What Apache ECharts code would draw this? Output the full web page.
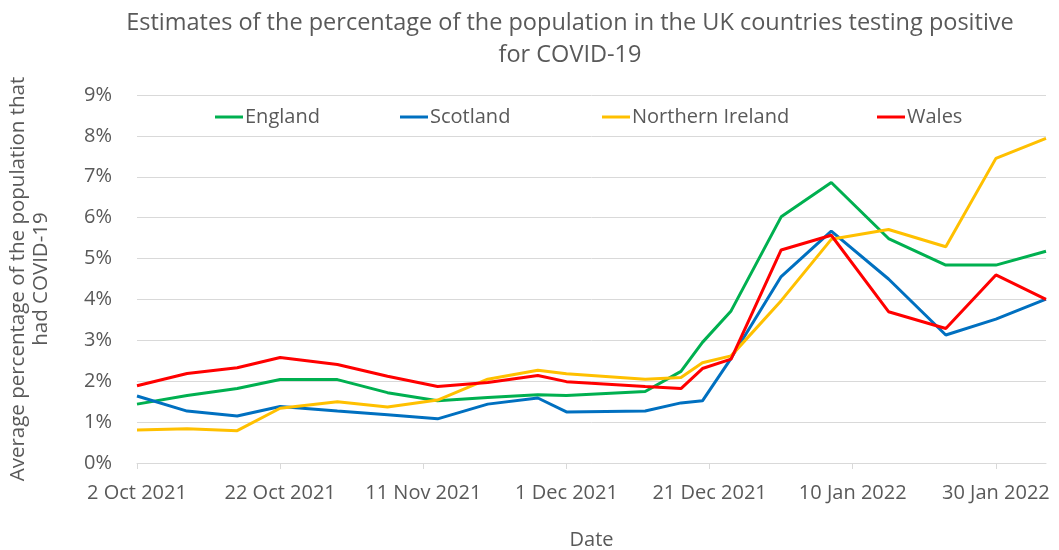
<!DOCTYPE html>
<html><head><meta charset="utf-8">
<script src="https://cdn.jsdelivr.net/npm/echarts@6/dist/echarts.min.js"></script>
<style>html,body{margin:0;padding:0;background:#fff}#c{width:1059px;height:550px}</style>
</head><body><div id="c"></div>
<script>
// days since 2 Oct 2021
const days = [0, 7, 14, 20, 28, 35, 42, 49, 56, 60, 71, 76, 79, 83, 90, 97, 105, 113, 120, 127];
const england = [1.44, 1.65, 1.82, 2.04, 2.04, 1.72, 1.52, 1.60, 1.67, 1.65, 1.75, 2.24, 2.95, 3.72, 6.02, 6.86, 5.49, 4.84, 4.84, 5.18];
const scotland = [1.64, 1.27, 1.15, 1.38, 1.27, 1.18, 1.08, 1.44, 1.59, 1.25, 1.27, 1.47, 1.52, 2.56, 4.56, 5.67, 4.50, 3.13, 3.52, 4.01];
const nireland = [0.81, 0.84, 0.79, 1.34, 1.50, 1.37, 1.54, 2.05, 2.27, 2.18, 2.05, 2.09, 2.45, 2.62, 3.97, 5.47, 5.71, 5.29, 7.45, 7.94];
const wales = [1.89, 2.19, 2.33, 2.58, 2.41, 2.12, 1.87, 1.97, 2.14, 1.99, 1.87, 1.82, 2.31, 2.54, 5.21, 5.57, 3.70, 3.29, 4.60, 4.00];
const seriesNames = ['England', 'Scotland', 'Northern Ireland', 'Wales'];
const colors = ['#00B050', '#0070C0', '#FFC000', '#FF0000'];
const yTicks = [0, 1, 2, 3, 4, 5, 6, 7, 8, 9];

const start = Date.UTC(2021, 9, 2);
const months = ['Jan','Feb','Mar','Apr','May','Jun','Jul','Aug','Sep','Oct','Nov','Dec'];
function fmt(d) {
  const t = new Date(start + d * 86400000);
  return t.getUTCDate() + ' ' + months[t.getUTCMonth()] + ' ' + t.getUTCFullYear();
}
const font = 'Open Sans';
const all = [england, scotland, nireland, wales];
const series = all.map((arr, i) => ({
  name: seriesNames[i], type: 'line', data: days.map((d, j) => [d, arr[j]]),
  showSymbol: false, symbol: 'none', lineStyle: { width: 3, color: colors[i] }, itemStyle: { color: colors[i] },
  animation: false
}));
const legendX = [215, 400, 602, 877];
const legends = seriesNames.map((n, i) => ({
  data: [n], left: legendX[i], top: 107, itemWidth: 28, itemHeight: 3, icon: 'rect', padding: 0,
  textStyle: { fontFamily: font, fontSize: 20, color: '#595959', padding: [0, 0, 0, -3] }
}));
const chart = echarts.init(document.getElementById('c'), null, { renderer: 'canvas' });
chart.setOption({
  animation: false,
  title: {
    text: 'Estimates of the percentage of the population in the UK countries testing positive\nfor COVID-19',
    left: 565, top: 2, textAlign: 'center',
    textStyle: { fontFamily: font, fontSize: 23.5, fontWeight: 'normal', color: '#595959', lineHeight: 32 }
  },
  legend: legends,
  grid: { left: 137, right: 13, top: 95, bottom: 87, outerBoundsMode: 'none', containLabel: false },
  xAxis: {
    type: 'value', min: 0, max: 127, interval: 20,
    name: 'Date', nameLocation: 'middle', nameGap: 67,
    nameTextStyle: { fontFamily: font, fontSize: 20, color: '#595959' },
    axisLine: { lineStyle: { color: '#d9d9d9', width: 1 } },
    axisTick: { show: true, length: 6, lineStyle: { color: '#d9d9d9' } },
    splitLine: { show: false },
    axisLabel: { formatter: v => fmt(v), fontFamily: font, fontSize: 20, color: '#595959', margin: 20, showMaxLabel: false }
  },
  yAxis: {
    type: 'value', min: 0, max: 9, interval: 1,
    name: 'Average percentage of the population that\nhad COVID-19', nameLocation: 'middle', nameRotate: 90, nameGap: 84,
    nameTextStyle: { fontFamily: font, fontSize: 20.5, color: '#595959', lineHeight: 23 },
    axisLine: { show: false }, axisTick: { show: false },
    splitLine: { lineStyle: { color: '#d9d9d9', width: 1 } },
    axisLabel: { formatter: v => yTicks.includes(v) ? v + '%' : '', fontFamily: font, fontSize: 20, color: '#595959', margin: 25 }
  },
  series: series
});
</script></body></html>
